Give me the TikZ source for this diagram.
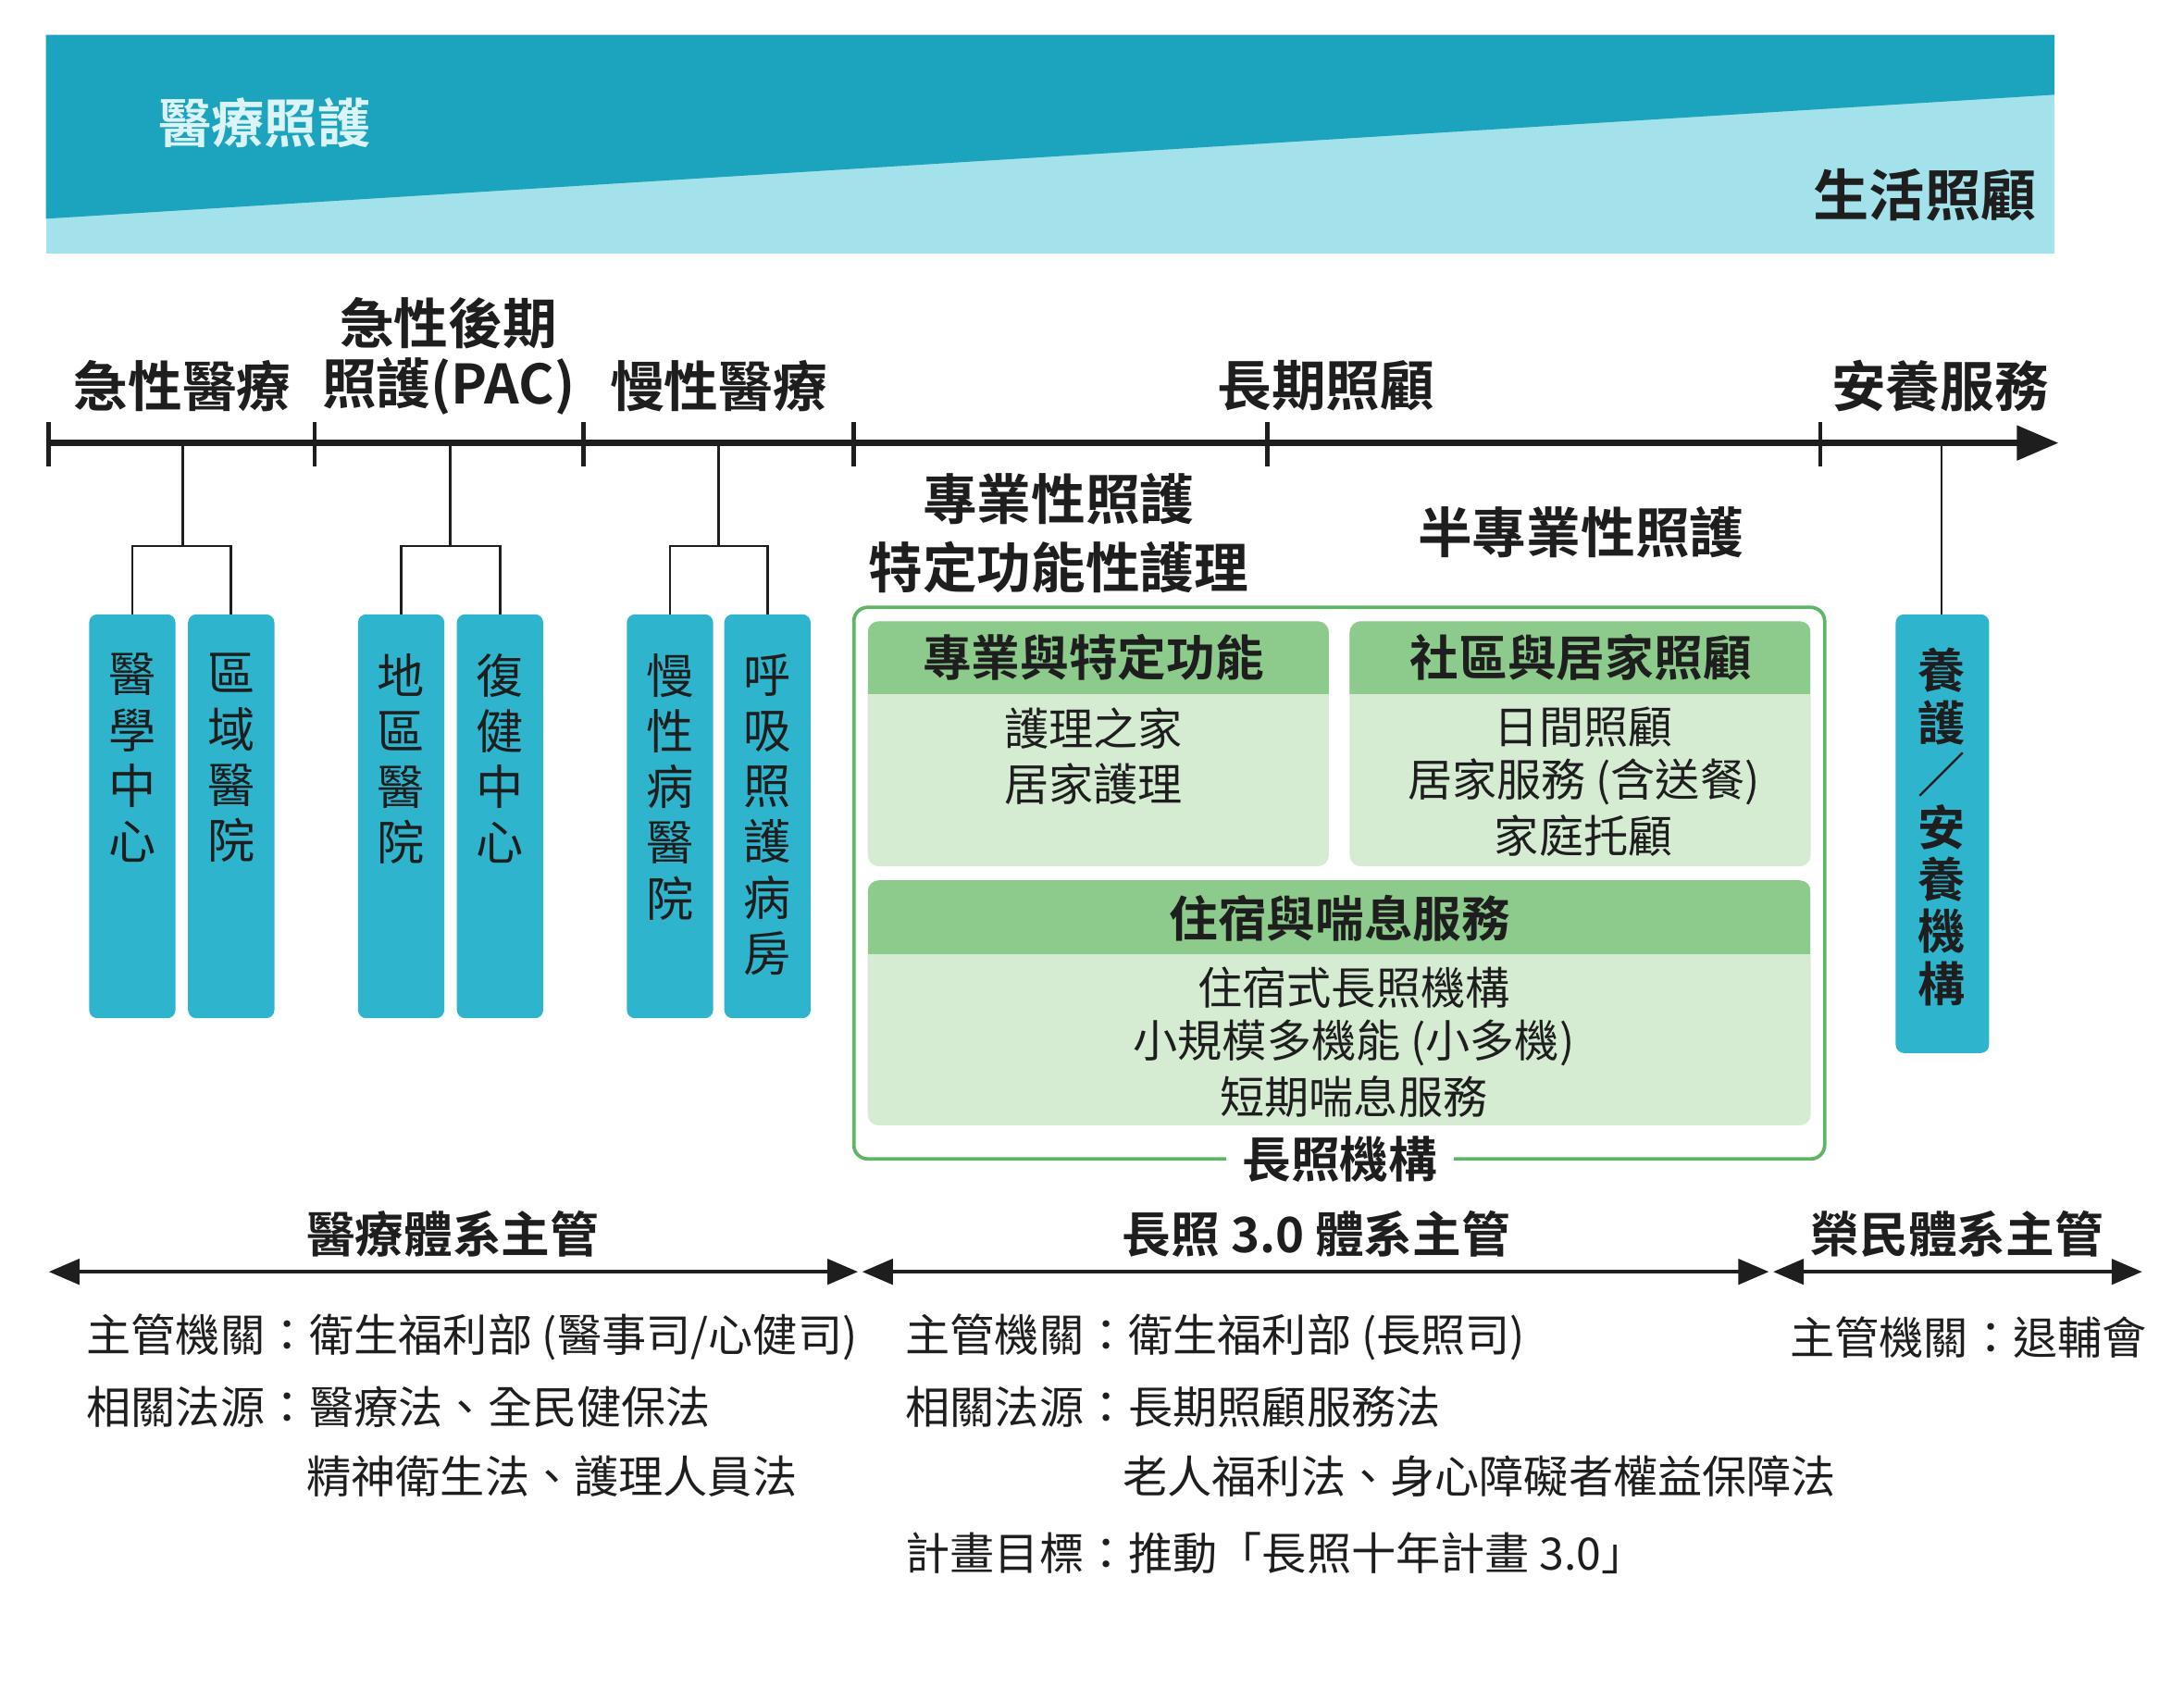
\documentclass[tikz,border=0pt]{standalone}
\usepackage{fontspec}
\setmainfont{Noto Sans CJK TC}[BoldFont={* Bold}]
\usetikzlibrary{arrows.meta}
\definecolor{teal}{HTML}{1CA3BD}
\definecolor{lcyan}{HTML}{A3E2EA}
\definecolor{pil}{HTML}{2EB4CC}
\definecolor{gline}{HTML}{5DB565}
\definecolor{ghead}{HTML}{8DCB8D}
\definecolor{gbody}{HTML}{D5ECD3}
\definecolor{txt}{HTML}{1E1E1E}
\newcommand{\fs}[1]{\fontsize{#1}{#1}\selectfont}
\begin{document}
\begin{tikzpicture}[x=1pt,y=-1pt,
  hd/.style={font=\fs{39}\bfseries,text=txt,inner sep=0},
  pillar/.style={fill=pil,rounded corners=6pt,draw=none},
  ptxt/.style={font=\fontsize{34}{40}\selectfont,text=txt,align=center,inner sep=0},
  bt/.style={font=\fs{32},text=txt,anchor=west,inner sep=0},
  gt/.style={font=\fs{32},text=txt,align=center,inner sep=0},
  gh/.style={font=\fs{35}\bfseries,text=txt,inner sep=0},
  tl/.style={line width=5pt,txt},
  br/.style={line width=1.8pt,txt},
  da/.style={line width=3pt,txt,{Triangle[length=22pt,width=18pt]}-{Triangle[length=22pt,width=18pt]}}]
\useasboundingbox (0,0) rectangle (1568,1212);
% banner
\fill[lcyan] (33,25) rectangle (1475,182);
\fill[teal] (33,25) -- (1475,25) -- (1475,68) -- (33,157) -- cycle;
\node[font=\fs{38}\bfseries,text=lcyan!40!white,inner sep=0] (b1) at (190,88) {醫療照護};
\node[font=\fs{40}\bfseries,text=txt,inner sep=0] (b2) at (1382,140) {生活照顧};
% timeline
\coordinate (t0) at (35,318); \coordinate (t1) at (1478,318);
\draw[tl,-{Triangle[length=30pt,width=24pt]}] (t0) -- (t1);
\foreach \x in {35,226,419,613,910,1307}{\draw[line width=3pt,txt] (\x,303) -- (\x,335);}
\node[hd] (l1) at (131,277) {急性醫療};
\node[hd] (l2a) at (322,232) {急性後期};
\node[hd] (l2b) at (322,277) {照護(PAC)};
\node[hd] (l3) at (516,277) {慢性醫療};
\node[hd] (l4) at (952,277) {長期照顧};
\node[hd] (l5) at (1393,277) {安養服務};
% brackets and pillars
\foreach \c/\a/\b/\ta/\tb in {131/95/166/{醫\\學\\中\\心}/{區\\域\\醫\\院},323/288/359/{地\\區\\醫\\院}/{復\\健\\中\\心},516/481/551/{慢\\性\\病\\醫\\院}/{呼\\吸\\照\\護\\病\\房}}{
  \draw[br] (\c,320) -- (\c,392); \draw[br] (\a,441) -- (\a,392) -- (\b,392) -- (\b,441);
  \fill[pillar] (\a-31,441) rectangle (\a+31,731);
  \fill[pillar] (\b-31,441) rectangle (\b+31,731);
  \node[ptxt,anchor=north] at (\a,469) {\ta};
  \node[ptxt,anchor=north] at (\b,469) {\tb};
}
\draw[br] (1394,320) -- (1394,441);
\fill[pillar] (1361,441) rectangle (1428,756);
\node[ptxt,anchor=north,font=\fontsize{34}{37.5}\selectfont\bfseries] (p7) at (1394,465) {養\\護\\／\\安\\養\\機\\構};
% long-term care
\node[hd] (s1) at (760,358) {專業性照護};
\node[hd] (s2) at (760,407) {特定功能性護理};
\node[hd] (s3) at (1135,382) {半專業性照護};
\draw[gline,line width=2.5pt,rounded corners=10pt] (613,436) rectangle (1310,832);
\node[hd,fill=white,inner xsep=12pt,font=\fs{35}\bfseries] (lab) at (962,832) {長照機構};
\foreach \x/\y/\X/\Y/\h in {623/446/954/622/498,969/446/1300/622/498,623/632/1300/808/685}{
  \fill[gbody,rounded corners=8pt] (\x,\y) rectangle (\X,\Y);
  \begin{scope}
  \clip[rounded corners=8pt] (\x,\y) rectangle (\X,\Y);
  \fill[ghead] (\x,\y) rectangle (\X,\h);
  \end{scope}
}
\node[gh] (g1) at (785,472) {專業與特定功能};
\node[gh] (g2) at (1135,472) {社區與居家照顧};
\node[gh] (g3) at (962,659) {住宿與喘息服務};
\node[gt] (g1t) at (785,543) {護理之家\\[8pt]居家護理};
\node[gt] (g2t) at (1137,561) {日間照顧\\[6pt]居家服務 (含送餐)\\[6pt]家庭托顧};
\node[gt] (g3t) at (972,748) {住宿式長照機構\\[6pt]小規模多機能 (小多機)\\[6pt]短期喘息服務};
% bottom
\node[hd,font=\fs{35}\bfseries] (m1) at (325,886) {醫療體系主管};
\node[hd,font=\fs{35}\bfseries] (m2) at (945,886) {長照 3.0 體系主管};
\node[hd,font=\fs{35}\bfseries] (m3) at (1405,886) {榮民體系主管};
\coordinate (a1) at (35,913); \coordinate (a2) at (616,913);
\coordinate (a3) at (619,913); \coordinate (a4) at (1270,913);
\coordinate (a5) at (1273,913); \coordinate (a6) at (1538,913);
\draw[da] (a1) -- (a2); \draw[da] (a3) -- (a4); \draw[da] (a5) -- (a6);
\node[bt] (r1) at (62,960) {主管機關：衛生福利部 (醫事司/心健司)};
\node[bt] (r2) at (62,1010) {相關法源：醫療法、全民健保法};
\node[bt] (r3) at (220,1060) {精神衛生法、護理人員法};
\node[bt] (r4) at (650,960) {主管機關：衛生福利部 (長照司)};
\node[bt] (r5) at (650,1010) {相關法源：長期照顧服務法};
\node[bt] (r6) at (806,1060) {老人福利法、身心障礙者權益保障法};
\node[bt] (r7) at (650,1115) {計畫目標：推動「長照十年計畫 3.0」};
\node[bt] (r8) at (1285,960) {主管機關：退輔會};
\end{tikzpicture}
\end{document}
